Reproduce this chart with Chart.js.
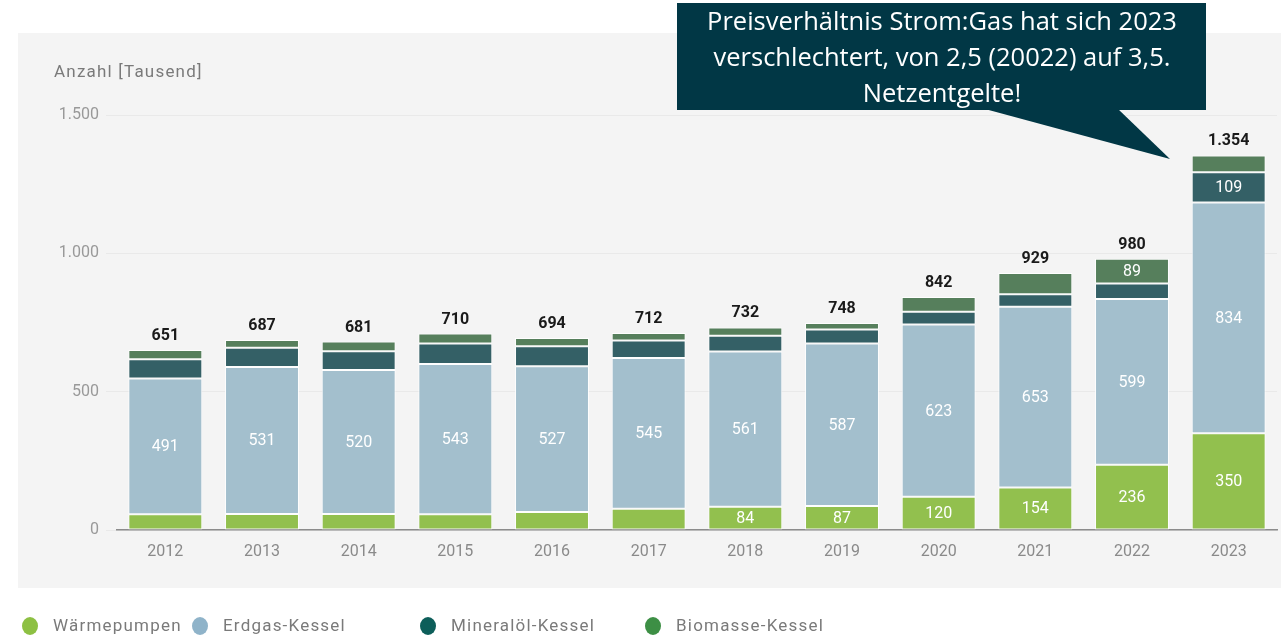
<!DOCTYPE html>
<html lang="de">
<head>
<meta charset="utf-8">
<title>Absatz Wärmeerzeuger</title>
<script src="https://cdn.jsdelivr.net/npm/chart.js@4/dist/chart.umd.min.js"></script>
<style>
  html, body { margin: 0; padding: 0; background: #fff; }
  canvas { display: block; }
</style>
</head>
<body>
<canvas id="chart" width="1281" height="637"></canvas>
<script>
// Absatz Wärmeerzeuger in Tausend Stück
const years = ['2012', '2013', '2014', '2015', '2016', '2017', '2018', '2019', '2020', '2021', '2022', '2023']
const waermepumpen = [57, 58, 58, 57, 65, 77, 84, 87, 120, 154, 236, 350]
const erdgasKessel = [491, 531, 520, 543, 527, 545, 561, 587, 623, 653, 599, 834]
const oelKessel = [69, 70, 68, 74, 72, 63, 57, 51, 46, 45, 56, 109]
const biomasseKessel = [34, 28, 35, 36, 30, 27, 30, 23, 53, 77, 89, 61]
const yTicks = [0, 500, 1000, 1500]

const seriesNames = ['Wärmepumpen', 'Erdgas-Kessel', 'Mineralöl-Kessel', 'Biomasse-Kessel']
const barColors = ['#92c04e', '#a3bfcd', '#346066', '#567f5c']
const legendColors = ['#8dc043', '#8fb3c9', '#0d5e5a', '#3d8f45']

const calloutLines = [
  'Preisverhältnis Strom:Gas hat sich 2023',
  'verschlechtert, von 2,5 (20022) auf 3,5.',
  'Netzentgelte!',
]

const FONT = 'Roboto, "Noto Sans", sans-serif'

// 1354 -> "1.354"
const fmt = (v) => String(Math.round(v)).replace(/\B(?=(\d{3})+(?!\d))/g, '.')

const panel = {
  id: 'panel',
  beforeDraw(chart) {
    const { ctx } = chart
    ctx.save()
    ctx.fillStyle = '#f4f4f4'
    ctx.fillRect(18, 33, 1263, 555)
    ctx.fillStyle = '#7a7a7a'
    ctx.font = '17px ' + FONT
    ctx.letterSpacing = '1.2px'
    ctx.textBaseline = 'middle'
    ctx.textAlign = 'left'
    ctx.fillText('Anzahl [Tausend]', 54, 73)
    ctx.restore()
  },
}

const labels = {
  id: 'labels',
  afterDatasetsDraw(chart) {
    const { ctx } = chart
    ctx.save()
    ctx.textAlign = 'center'
    ctx.textBaseline = 'middle'

    // values inside the segments (only the larger ones)
    ctx.font = '16px ' + FONT
    ctx.fillStyle = '#fff'
    chart.data.datasets.forEach((ds, di) => {
      const meta = chart.getDatasetMeta(di)
      meta.data.forEach((bar, i) => {
        const v = ds.data[i]
        if (v < 80) return
        ctx.fillText(fmt(v), bar.x, (bar.y + bar.base) / 2 + 1)
      })
    })

    // totals on top
    ctx.font = 'bold 16px ' + FONT
    ctx.fillStyle = '#1a1a1a'
    const last = chart.getDatasetMeta(chart.data.datasets.length - 1)
    years.forEach((y, i) => {
      const total = chart.data.datasets.reduce((s, ds) => s + ds.data[i], 0)
      ctx.fillText(fmt(total), last.data[i].x, last.data[i].y - 14)
    })
    ctx.restore()
  },
}

const legendAndCallout = {
  id: 'legendAndCallout',
  afterDraw(chart) {
    const { ctx } = chart
    ctx.save()

    // legend below the panel
    const legendX = [30, 200, 428, 653]
    ctx.font = '17px ' + FONT
    ctx.letterSpacing = '1.2px'
    ctx.textBaseline = 'middle'
    ctx.textAlign = 'left'
    seriesNames.forEach((name, i) => {
      ctx.fillStyle = legendColors[i]
      ctx.beginPath()
      ctx.ellipse(legendX[i], 626, 8, 9, 0, 0, Math.PI * 2)
      ctx.fill()
      ctx.fillStyle = '#7a7a7a'
      ctx.fillText(name, legendX[i] + 23, 627)
    })
    ctx.letterSpacing = '0px'

    // speech bubble
    ctx.fillStyle = '#013745'
    ctx.fillRect(677, 3, 529, 107)
    ctx.beginPath()
    ctx.moveTo(985, 109)
    ctx.lineTo(1118, 109)
    ctx.lineTo(1170, 159)
    ctx.closePath()
    ctx.fill()

    ctx.fillStyle = '#fff'
    ctx.font = '25.5px "Open Sans", "Noto Sans", sans-serif'
    ctx.textAlign = 'center'
    calloutLines.forEach((line, i) => {
      ctx.fillText(line, 942, 23 + i * 36)
    })
    ctx.restore()
  },
}

const datasets = [waermepumpen, erdgasKessel, oelKessel, biomasseKessel].map((data, i) => ({
  label: seriesNames[i],
  data,
  backgroundColor: barColors[i],
  borderColor: 'rgba(255,255,255,0.85)',
  borderWidth: 1,
  borderSkipped: false,
  barPercentage: 0.765,
  categoryPercentage: 1,
}))

new Chart(document.getElementById('chart'), {
  type: 'bar',
  data: { labels: years, datasets },
  options: {
    responsive: false,
    animation: false,
    layout: { padding: { left: 18, right: 4, top: 115, bottom: 67 } },
    plugins: {
      legend: { display: false },
      tooltip: { enabled: false },
    },
    scales: {
      x: {
        stacked: true,
        grid: { display: false, drawTicks: false },
        border: { display: true, color: '#8c8c8c', width: 1.5 },
        ticks: { color: '#8a8a8a', font: { family: FONT, size: 16 }, padding: 12, maxRotation: 0 },
        afterFit(scale) { scale.height = 40 },
      },
      y: {
        stacked: true,
        min: 0,
        max: 1500,
        afterBuildTicks(scale) { scale.ticks = yTicks.map((value) => ({ value })) },
        grid: { color: '#e9e9e9', tickLength: 11, tickColor: '#e9e9e9' },
        border: { display: false },
        ticks: {
          color: '#999',
          font: { family: FONT, size: 16 },
          padding: 7,
          callback: (v) => fmt(v),
        },
        afterFit(scale) { scale.width = 99 },
      },
    },
  },
  plugins: [panel, labels, legendAndCallout],
})
</script>
</body>
</html>
